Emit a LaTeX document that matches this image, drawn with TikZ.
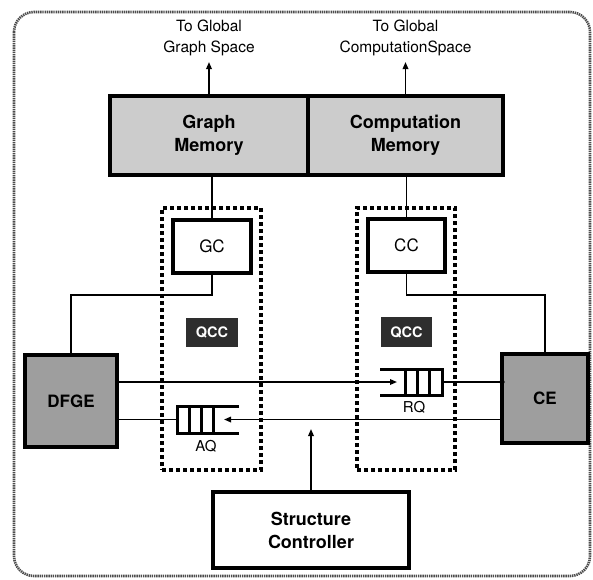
\documentclass[tikz,border=0pt]{standalone}
\usepackage{fontspec}
\setmainfont{TeX Gyre Heros}
\usetikzlibrary{arrows.meta,calc}
\begin{document}
\begin{tikzpicture}[x=1pt,y=-1pt,
  conn/.style={line width=1.6pt},
  arr/.style={line width=1.6pt,-{Triangle[length=7pt,width=5.5pt]}},
  outer/.style={draw=black!70,line width=2.6pt,dash pattern=on 1.4pt off 0.8pt,rounded corners=20pt},
  mem/.style={draw,line width=4pt,fill=black!20,inner sep=0pt,outer sep=0pt,align=center,
              font=\fontsize{18}{23}\selectfont\bfseries},
  lbl/.style={align=center,inner sep=0pt,font=\fontsize{15.5}{21}\selectfont},
  grp/.style={draw,line width=3.2pt,dash pattern=on 4pt off 3pt,inner sep=0pt,outer sep=0pt},
  ctl/.style={draw,line width=4pt,fill=white,inner sep=0pt,outer sep=0pt,font=\fontsize{17}{20}\selectfont},
  sc/.style={draw,line width=4pt,fill=white,inner sep=0pt,outer sep=0pt,align=center,
             font=\fontsize{18}{23}\selectfont\bfseries},
  qcc/.style={fill=black!82,text=white,inner sep=0pt,outer sep=0pt,font=\fontsize{14.5}{16}\selectfont\bfseries},
  eng/.style={draw,line width=4pt,fill=black!38,inner sep=0pt,outer sep=0pt,font=\fontsize{17}{20}\selectfont\bfseries},
  qbox/.style={inner sep=0pt,outer sep=0pt},
  qline/.style={line width=3pt},
  qlbl/.style={inner sep=0pt,font=\fontsize{15}{18}\selectfont}
]
\path[use as bounding box] (0,0) rectangle (593,579);
\draw[outer] (14,12) rectangle (590,576);

% memories
\node[mem,minimum width=198pt,minimum height=79pt] (GM) at (209,135.5) {Graph\\Memory};
\node[mem,minimum width=195pt,minimum height=79pt] (CM) at (405.5,135.5) {Computation\\Memory};

% labels to global spaces
\node[lbl] (TGG) at (209,38) {To Global\\Graph Space};
\node[lbl] (TGC) at (405.5,38) {To Global\\ComputationSpace};
\coordinate (TGGend) at (209,62);
\coordinate (TGCend) at (405.5,62);
\draw[arr] (GM.north) -- (TGGend);
\draw[arr] (CM.north) -- (TGCend);

% dashed groups
\node[grp,minimum width=99pt,minimum height=262pt] (GL) at (211.5,339) {};
\node[grp,minimum width=98pt,minimum height=262pt] (GR) at (406,339) {};

% controllers
\node[ctl,minimum width=78pt,minimum height=53pt] (GC) at (212,246.5) {GC};
\node[ctl,minimum width=77pt,minimum height=53pt] (CC) at (406.5,245.5) {CC};
\draw[conn] (GM.south -| GC.north) -- (GC.north);
\draw[conn] (CM.south -| CC.north) -- (CC.north);

\node[qcc,minimum width=52pt,minimum height=29pt] (QCCa) at (212,332.5) {QCC};
\node[qcc,minimum width=51pt,minimum height=30pt] (QCCb) at (406.5,332) {QCC};

% engines
\node[eng,minimum width=92pt,minimum height=92pt] (DFGE) at (71,401) {DFGE};
\node[eng,minimum width=86pt,minimum height=89pt] (CE) at (545,398.5) {CE};

\draw[conn] (GC.south) -- ++(0,22) -| (DFGE.north);
\draw[conn] (CC.south) -- ++(0,23) -| (CE.north);

% RQ queue
\node[qbox,minimum width=62pt,minimum height=26pt] (RQ) at (411,382) {};
\draw[qline] (380,369) -- (442,369) -- (442,395) -- (380,395);
\draw[qline] (405,369) -- (405,395) (417,369) -- (417,395) (429,369) -- (429,395);
\node[qlbl] (RQl) at (414,407) {RQ};
\coordinate (RQin) at (397,382);
\draw[arr] (DFGE.east |- RQ) -- (RQin);
\draw[conn] (RQ.east) -- (CE.west |- RQ);
\fill (CE.west |- RQ) circle (2.6pt);

% AQ queue
\node[qbox,minimum width=62pt,minimum height=27pt] (AQ) at (208,419.5) {};
\draw[qline] (239,406) -- (177,406) -- (177,433) -- (239,433);
\draw[qline] (189,406) -- (189,433) (201,406) -- (201,433) (213,406) -- (213,433);
\node[qlbl] (AQl) at (206,446) {AQ};
\coordinate (AQin) at (224,419.5);
\draw[arr] (CE.west |- AQ) -- (AQin);
\draw[conn] (DFGE.east |- AQ) -- (AQ.west);

% structure controller
\node[sc,minimum width=196pt,minimum height=76pt] (SC) at (311,530) {Structure\\Controller};
\coordinate (SCend) at (311,429);
\draw[arr] (SC.north) -- (SCend);
\end{tikzpicture}
\end{document}
